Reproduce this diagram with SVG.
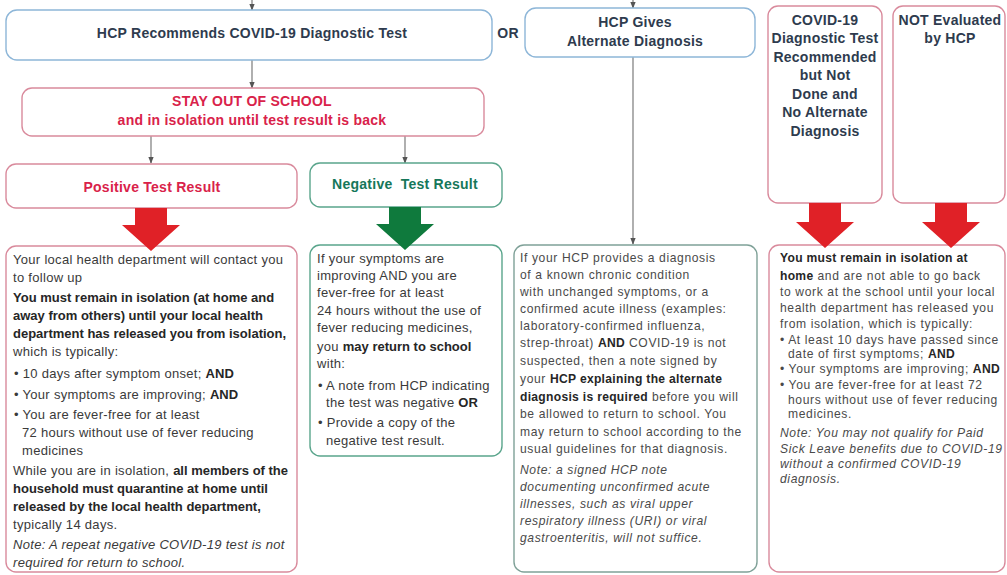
<svg xmlns="http://www.w3.org/2000/svg" width="1007" height="575" viewBox="0 0 1007 575">
  <style>
    text { font-family: "Liberation Sans", Arial, sans-serif; }
    .hdr { font-weight: bold; font-size: 14px; letter-spacing: 0.25px; fill: #2e3b4e; text-anchor: middle; }
    .red { fill: #d9224a; }
    .grn { fill: #16775a; }
    .body { font-size: 13px; letter-spacing: 0.3px; fill: #3a3a3a; }
    .body .b, .body.b { letter-spacing: 0; }
    .small { font-size: 12.1px; letter-spacing: 0.62px; fill: #4a4a4a; }
    .small .b, .small.b { letter-spacing: 0.3px; }
    .b { font-weight: bold; fill: #262626; }
    .i { font-style: italic; }
    .box { fill: #ffffff; stroke-width: 1.4; }
    .blue { stroke: #8db6d8; }
    .pink { stroke: #d98a9c; }
    .green { stroke: #5aa58c; }
    .teal { stroke: #7fa198; }
    .conn { stroke: #6e6e6e; stroke-width: 1.1; fill: none; marker-end: url(#tip); }
  </style>
  <defs>
    <marker id="tip" viewBox="0 0 10 10" refX="9" refY="5" markerWidth="6" markerHeight="6" orient="auto">
      <path d="M0,1 L10,5 L0,9 Z" fill="#555555"/>
    </marker>
  </defs>
  <rect width="1007" height="575" fill="#ffffff"/>

  <!-- connectors -->
  <g id="connectors">
    <line class="conn" x1="252" y1="0" x2="252" y2="10"/>
    <line class="conn" x1="633" y1="0" x2="633" y2="8"/>
    <line class="conn" x1="252" y1="60" x2="252" y2="88"/>
    <line class="conn" x1="151" y1="136" x2="151" y2="163"/>
    <line class="conn" x1="405" y1="136" x2="405" y2="163"/>
    <line class="conn" x1="633" y1="57" x2="633" y2="244"/>
  </g>

  <!-- entry nodes -->
  <g id="hcp-test">
    <rect class="box blue" x="6" y="10" width="486" height="50" rx="11"/>
    <text class="hdr" x="252" y="38">HCP Recommends COVID-19 Diagnostic Test</text>
  </g>
  <text class="hdr" x="508" y="38" font-size="12.5">OR</text>
  <g id="hcp-alternate">
    <rect class="box blue" x="525" y="8" width="230" height="49" rx="11"/>
    <text class="hdr" x="635" y="27">HCP Gives</text>
    <text class="hdr" x="635" y="46">Alternate Diagnosis</text>
  </g>
  <g id="not-done">
    <rect class="box pink" x="768" y="6" width="114" height="197" rx="10"/>
    <text class="hdr" x="825" y="25">COVID-19</text>
    <text class="hdr" x="825" y="43">Diagnostic Test</text>
    <text class="hdr" x="825" y="62">Recommended</text>
    <text class="hdr" x="825" y="80">but Not</text>
    <text class="hdr" x="825" y="99">Done and</text>
    <text class="hdr" x="825" y="117">No Alternate</text>
    <text class="hdr" x="825" y="136">Diagnosis</text>
  </g>
  <g id="not-evaluated">
    <rect class="box pink" x="893" y="6" width="112" height="197" rx="10"/>
    <text class="hdr" x="950" y="25">NOT Evaluated</text>
    <text class="hdr" x="950" y="43">by HCP</text>
  </g>

  <g id="stay-out">
    <rect class="box pink" x="22" y="88" width="462" height="48" rx="10"/>
    <text class="hdr red" x="252" y="106">STAY OUT OF SCHOOL</text>
    <text class="hdr red" x="252" y="125">and in isolation until test result is back</text>
  </g>

  <g id="positive">
    <rect class="box pink" x="6" y="164" width="291" height="44" rx="10"/>
    <text class="hdr red" x="152" y="192">Positive Test Result</text>
  </g>
  <g id="negative">
    <rect class="box green" x="310" y="163" width="192" height="44" rx="10"/>
    <text class="hdr grn" x="405" y="189" xml:space="preserve">Negative  Test Result</text>
  </g>

  <!-- detail boxes -->
  <g id="positive-detail">
    <rect class="box pink" x="6" y="246" width="291" height="326" rx="10"/>
    <text class="body" x="13" y="264">Your local health department will contact you</text>
    <text class="body" x="13" y="282">to follow up</text>
    <text class="body b" x="13" y="302">You must remain in isolation (at home and</text>
    <text class="body b" x="13" y="320">away from others) until your local health</text>
    <text class="body b" x="13" y="338">department has released you from isolation,</text>
    <text class="body" x="13" y="356">which is typically:</text>
    <text class="body" x="14" y="378">• 10 days after symptom onset; <tspan class="b">AND</tspan></text>
    <text class="body" x="14" y="399">• Your symptoms are improving; <tspan class="b">AND</tspan></text>
    <text class="body" x="14" y="419">• You are fever-free for at least</text>
    <text class="body" x="22" y="437">72 hours without use of fever reducing</text>
    <text class="body" x="22" y="455">medicines</text>
    <text class="body" x="13" y="475">While you are in isolation, <tspan class="b">all members of the</tspan></text>
    <text class="body b" x="13" y="493">household must quarantine at home until</text>
    <text class="body b" x="13" y="511">released by the local health department,</text>
    <text class="body" x="13" y="529">typically 14 days.</text>
    <text class="body i" x="13" y="549">Note: A repeat negative COVID-19 test is not</text>
    <text class="body i" x="13" y="567">required for return to school.</text>
  </g>

  <g id="negative-detail">
    <rect class="box green" x="310" y="245" width="192" height="211" rx="10"/>
    <text class="body" x="317" y="263">If your symptoms are</text>
    <text class="body" x="317" y="280">improving AND you are</text>
    <text class="body" x="317" y="297">fever-free for at least</text>
    <text class="body" x="317" y="315">24 hours without the use of</text>
    <text class="body" x="317" y="332">fever reducing medicines,</text>
    <text class="body" x="317" y="351">you <tspan class="b">may return to school</tspan></text>
    <text class="body" x="317" y="368">with:</text>
    <text class="body" x="318" y="390">• A note from HCP indicating</text>
    <text class="body" x="326" y="407">the test was negative <tspan class="b">OR</tspan></text>
    <text class="body" x="318" y="427">• Provide a copy of the</text>
    <text class="body" x="326" y="445">negative test result.</text>
  </g>

  <g id="alternate-detail">
    <rect class="box teal" x="514" y="245" width="243" height="327" rx="10"/>
    <text class="small" x="520" y="262">If your HCP provides a diagnosis</text>
    <text class="small" x="520" y="279">of a known chronic condition</text>
    <text class="small" x="520" y="296">with unchanged symptoms, or a</text>
    <text class="small" x="520" y="313">confirmed acute illness (examples:</text>
    <text class="small" x="520" y="330">laboratory-confirmed influenza,</text>
    <text class="small" x="520" y="347">strep-throat) <tspan class="b">AND</tspan> COVID-19 is not</text>
    <text class="small" x="520" y="365">suspected, then a note signed by</text>
    <text class="small" x="520" y="383">your <tspan class="b">HCP explaining the alternate</tspan></text>
    <text class="small" x="520" y="401"><tspan class="b">diagnosis is required</tspan> before you will</text>
    <text class="small" x="520" y="418">be allowed to return to school. You</text>
    <text class="small" x="520" y="436">may return to school according to the</text>
    <text class="small" x="520" y="453">usual guidelines for that diagnosis.</text>
    <text class="small i" x="520" y="474">Note: a signed HCP note</text>
    <text class="small i" x="520" y="491">documenting unconfirmed acute</text>
    <text class="small i" x="520" y="508">illnesses, such as viral upper</text>
    <text class="small i" x="520" y="525">respiratory illness (URI) or viral</text>
    <text class="small i" x="520" y="542">gastroenteritis, will not suffice.</text>
  </g>

  <g id="isolation-detail">
    <rect class="box pink" x="769" y="245" width="236" height="327" rx="10"/>
    <text class="small b" x="780" y="262">You must remain in isolation at</text>
    <text class="small" x="780" y="280"><tspan class="b">home</tspan> and are not able to go back</text>
    <text class="small" x="780" y="296">to work at the school until your local</text>
    <text class="small" x="780" y="312">health department has released you</text>
    <text class="small" x="780" y="328">from isolation, which is typically:</text>
    <text class="small" x="780" y="344">• At least 10 days have passed since</text>
    <text class="small" x="788" y="358">date of first symptoms; <tspan class="b">AND</tspan></text>
    <text class="small" x="780" y="373">• Your symptoms are improving; <tspan class="b">AND</tspan></text>
    <text class="small" x="780" y="389">• You are fever-free for at least 72</text>
    <text class="small" x="788" y="404">hours without use of fever reducing</text>
    <text class="small" x="788" y="418">medicines.</text>
    <text class="small i" x="780" y="437">Note: You may not qualify for Paid</text>
    <text class="small i" x="780" y="453">Sick Leave benefits due to COVID-19</text>
    <text class="small i" x="780" y="468">without a confirmed COVID-19</text>
    <text class="small i" x="780" y="483">diagnosis.</text>
  </g>

  <!-- block arrows into the detail boxes -->
  <g id="block-arrows">
    <polygon fill="#e02127" points="135,208 167,208 167,225 180,225 151,251 122,225 135,225"/>
    <polygon fill="#0f7a3d" points="389,207 421,207 421,224 434,224 405,250 376,224 389,224"/>
    <polygon fill="#e02127" points="809,203 841,203 841,222 854,222 825,248 796,222 809,222"/>
    <polygon fill="#e02127" points="935,203 967,203 967,222 980,222 951,248 922,222 935,222"/>
  </g>
</svg>
